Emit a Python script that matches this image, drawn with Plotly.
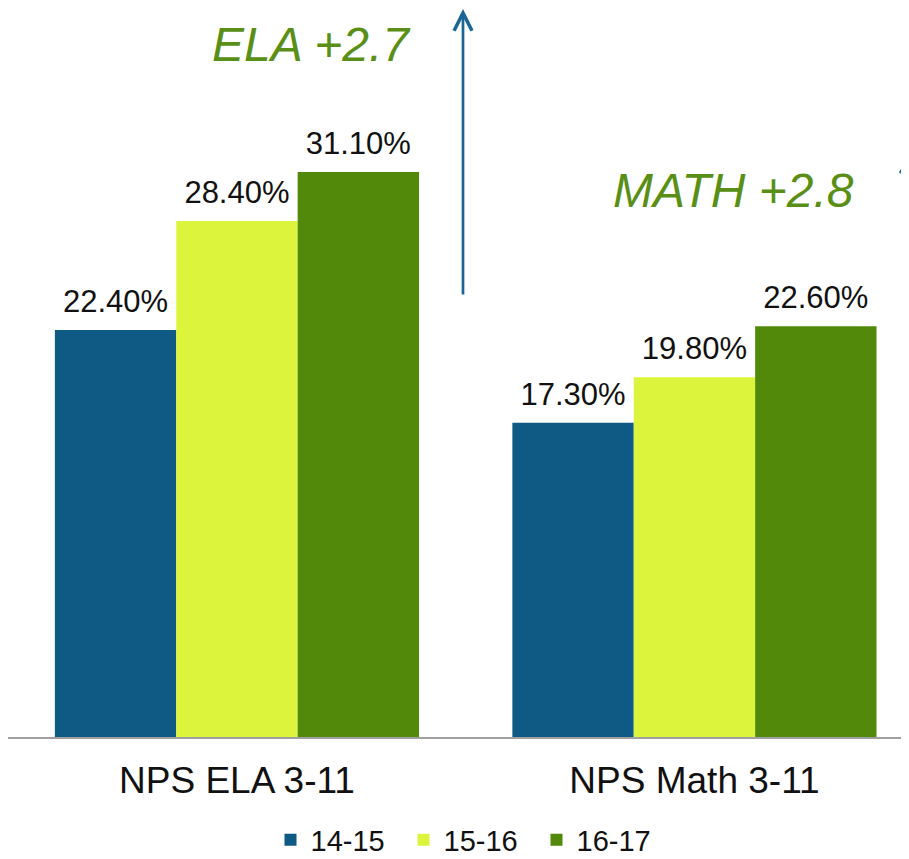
import plotly.graph_objects as go

categories = ["NPS ELA 3-11", "NPS Math 3-11"]
years = ["14-15", "15-16", "16-17"]
values_1415 = [22.4, 17.3]
values_1516 = [28.4, 19.8]
values_1617 = [31.1, 22.6]
series = [values_1415, values_1516, values_1617]
colors = ["#0E5A85", "#DDF43D", "#52890A"]
changes = ["ELA +2.7", "MATH +2.8"]

FONT = "Liberation Sans, Arial, sans-serif"
GREEN_TXT = "#5A8F17"
ARROW = "#1B6695"

# the page body adds an 8px offset
OFF = 8
FW, FH = 909 - OFF, 880
PW, PH = FW, 729  # plot area size in px


def px(sx):
    return (sx - OFF) / PW


def py(sy):
    return (PH + OFF - sy) / PH


fig = go.Figure()
for i, (yr, vals, col) in enumerate(zip(years, series, colors)):
    fig.add_trace(go.Bar(
        x=categories, y=vals, name=yr, marker=dict(color=col, line=dict(width=0)),
        offsetgroup=str(i), hoverinfo="skip",
    ))
for i, vals in enumerate(series):
    fig.add_trace(go.Scatter(
        x=categories, y=vals, mode="markers+text", offsetgroup=str(i),
        text=[f"{v:.2f}%" for v in vals], textposition="top center",
        textfont=dict(family=FONT, size=31, color="#111111"),
        marker=dict(size=15, opacity=0), showlegend=False, hoverinfo="skip",
    ))

# change annotations
fig.add_annotation(text=f"<i>{changes[0]}</i>", xref="paper", yref="paper",
                   x=px(311), y=py(45), xanchor="center", yanchor="middle",
                   showarrow=False,
                   font=dict(family=FONT, size=48, color=GREEN_TXT))
fig.add_annotation(text=f"<i>{changes[1]}</i>", xref="paper", yref="paper",
                   x=px(733), y=py(191), xanchor="center", yanchor="middle",
                   showarrow=False,
                   font=dict(family=FONT, size=48, color=GREEN_TXT))
# arrows
fig.add_annotation(text="", xref="paper", yref="paper",
                   x=px(463), y=py(9), ax=0, ay=287,
                   showarrow=True, arrowhead=5, arrowsize=1.3, arrowwidth=2.7,
                   arrowcolor=ARROW)
fig.add_shape(type="line", xref="paper", yref="paper",
              x0=px(900), y0=py(173), x1=px(916), y1=py(148),
              line=dict(color=ARROW, width=2.7))

fig.update_layout(
    width=FW, height=FH, autosize=False,
    margin=dict(l=0, r=0, t=0, b=FH - PH, autoexpand=False),
    barmode="group", bargap=0.204, bargroupgap=0, scattermode="group",
    plot_bgcolor="white", paper_bgcolor="white",
    font=dict(family=FONT, color="#111111"),
    showlegend=True,
    legend=dict(orientation="h", x=px(470), xanchor="center",
                y=py(840), yanchor="middle",
                font=dict(family=FONT, size=29, color="#111111"),
                entrywidth=88, itemclick=False, itemdoubleclick=False),
    xaxis=dict(range=[-0.5005, 1.469], showline=True, linecolor="#A0A0A0",
               linewidth=2, ticks="", showgrid=False, zeroline=False,
               ticklabelstandoff=10,
               tickfont=dict(family=FONT, size=37, color="#111111"),
               fixedrange=True),
    yaxis=dict(range=[0, 40.12], visible=False, showgrid=False, zeroline=False,
               fixedrange=True),
)
fig.write_html("out.html")
